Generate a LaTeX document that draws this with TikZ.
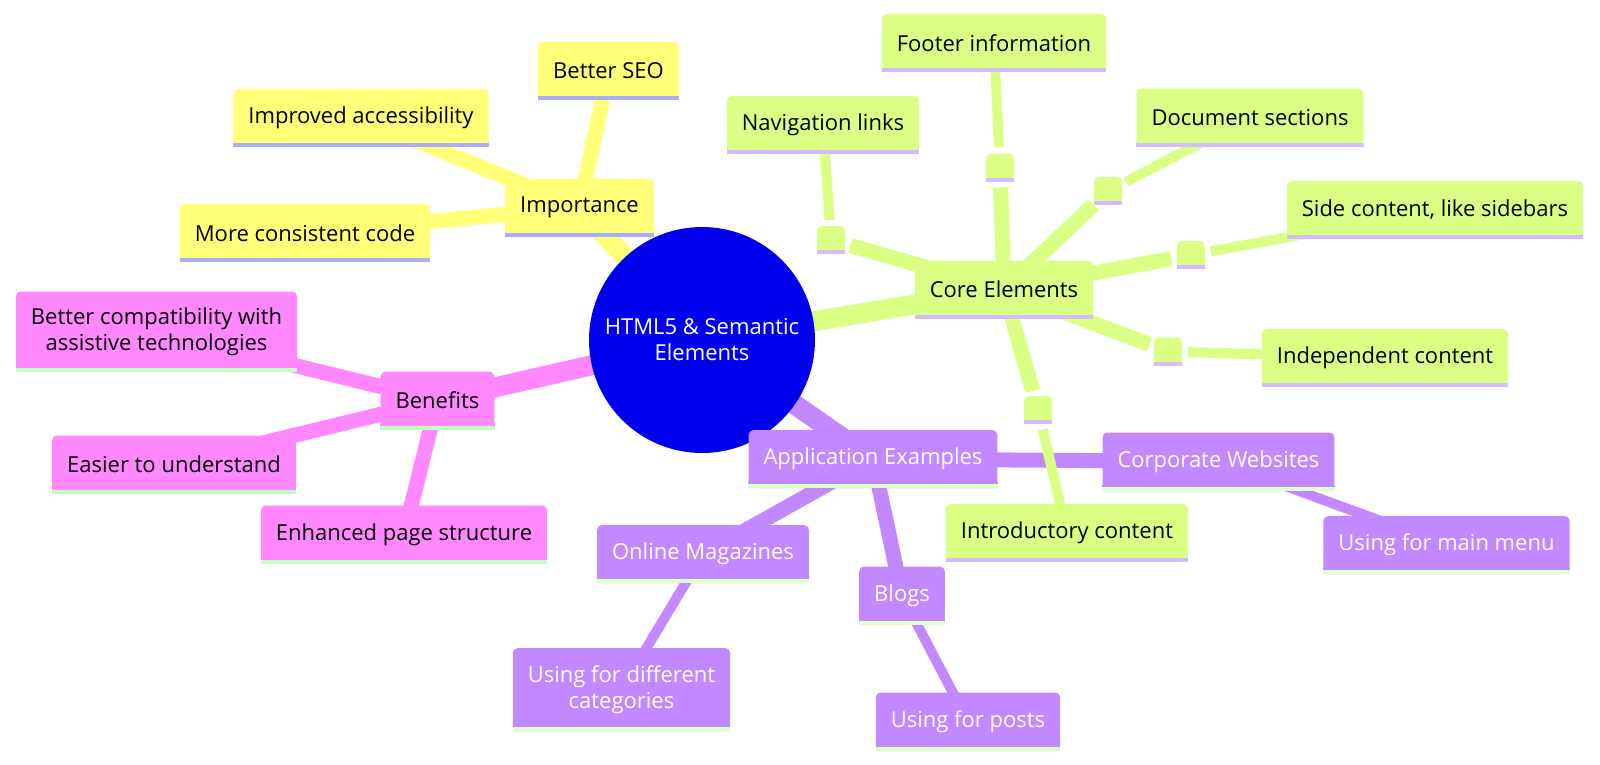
\documentclass[tikz,border=0pt]{standalone}
\usepackage{fontspec}
\setmainfont{Open Sans}
\usepackage{xcolor}
\definecolor{rootblue}{HTML}{0000EE}
\definecolor{yelfill}{HTML}{FFFF78}
\definecolor{yelline}{HTML}{ABABFF}
\definecolor{grnfill}{HTML}{DBFF84}
\definecolor{grnline}{HTML}{D2BCFF}
\definecolor{pnkfill}{HTML}{FF88FF}
\definecolor{pnkline}{HTML}{C2FFC2}
\definecolor{purfill}{HTML}{C288FF}
\definecolor{purline}{HTML}{DFFFC8}
\pgfdeclarelayer{edges}
\pgfsetlayers{edges,main}

\begin{document}
\begin{tikzpicture}[x=1pt,y=-1pt,font=\fontsize{22}{26}\selectfont,
	box/.style={rectangle,rounded corners=5pt,fill=#1,inner xsep=15pt,inner ysep=0pt,minimum height=58pt,align=center},
	dot/.style={box=#1,minimum width=28pt,minimum height=28pt,inner xsep=0pt},
	lvla/.style={line width=20pt},
	lvlb/.style={line width=15pt},
	lvlc/.style={line width=10pt},
	gapin/.style={shorten >=20pt},
	gapout/.style={shorten <=20pt}]
		\useasboundingbox (0,0) rectangle (1600,764);

		\node[circle,fill=rootblue,text=white,align=center,minimum size=226pt] (root) at (702,340) {HTML5 \& Semantic\\Elements};

		% importance
		\node[box=yelfill] (imp)  at (579.5,207.5) {Importance};
		\node[box=yelfill] (seo)  at (608.5,71)    {Better SEO};
		\node[box=yelfill] (acc)  at (361,118)     {Improved accessibility};
		\node[box=yelfill] (cons) at (305,233)     {More consistent code};

		% core elements
		\node[box=grnfill] (core)   at (1004,289.5) {Core Elements};
		\node[dot=grnfill] (snav)   at (831,240)    {};
		\node[dot=grnfill] (sfoot)  at (1000,167.5) {};
		\node[dot=grnfill] (sdoc)   at (1108,191)   {};
		\node[dot=grnfill] (sside)  at (1191,255)   {};
		\node[dot=grnfill] (sind)   at (1168,351.5) {};
		\node[dot=grnfill] (sintro) at (1038,410)   {};
		\node[box=grnfill] (nav)    at (823,125)    {Navigation links};
		\node[box=grnfill] (foot)   at (994,43)     {Footer information};
		\node[box=grnfill] (doc)    at (1250,117.5) {Document sections};
		\node[box=grnfill] (side)   at (1435,210)   {Side content, like sidebars};
		\node[box=grnfill] (ind)    at (1385,358)   {Independent content};
		\node[box=grnfill] (intro)  at (1067,533)   {Introductory content};

		% benefits
		\node[box=pnkfill] (ben)    at (437.5,400.5) {Benefits};
		\node[box=pnkfill,minimum height=80pt] (compat) at (156.5,331.5) {Better compatibility with\\assistive technologies};
		\node[box=pnkfill] (easy)   at (174,464.5)   {Easier to understand};
		\node[box=pnkfill] (enh)    at (404,534.5)   {Enhanced page structure};

		% application examples
		\node[box=purfill,text=white] (app)   at (873,459)     {Application Examples};
		\node[box=purfill,text=white] (corp)  at (1218.5,461.5) {Corporate Websites};
		\node[box=purfill,text=white] (menu)  at (1446.5,545)  {Using for main menu};
		\node[box=purfill,text=white] (mag)   at (703,554)     {Online Magazines};
		\node[box=purfill,text=white] (blogs) at (902,595.5)   {Blogs};
		\node[box=purfill,text=white] (posts) at (968,721.5)   {Using for posts};
		\node[box=purfill,text=white,minimum height=83pt] (cats) at (621.5,689.5) {Using for different\\categories};

		% square bottoms and the coloured bottom line
		\foreach \nd/\tone in {imp/yel,seo/yel,acc/yel,cons/yel,
			core/grn,snav/grn,sfoot/grn,sdoc/grn,sside/grn,sind/grn,sintro/grn,
			nav/grn,foot/grn,doc/grn,side/grn,ind/grn,intro/grn,
			ben/pnk,compat/pnk,easy/pnk,enh/pnk,
			app/pur,corp/pur,menu/pur,mag/pur,blogs/pur,posts/pur,cats/pur}{
			\fill[\tone fill] ([yshift=6pt]\nd.south west) rectangle (\nd.south east);
			\fill[\tone line] ([yshift=4pt]\nd.south west) rectangle (\nd.south east);
		}

		\begin{pgfonlayer}{edges}
		\path (root.center) edge[lvla,yelfill] (imp.center)
			  (imp.center)  edge[lvlb,yelfill] (seo.center)
			  (imp.center)  edge[lvlb,yelfill] (acc.center)
			  (imp.center)  edge[lvlb,yelfill] (cons.center);
		\path (root.center) edge[lvla,pnkfill] (ben.center)
			  (ben.center)  edge[lvlb,pnkfill] (compat.center)
			  (ben.center)  edge[lvlb,pnkfill] (easy.center)
			  (ben.center)  edge[lvlb,pnkfill] (enh.center);
		\path (root.center) edge[lvla,purfill] (app.center)
			  (app.center)  edge[lvlb,purfill] (corp.center)
			  (app.center)  edge[lvlb,purfill] (mag.center)
			  (app.center)  edge[lvlb,purfill] (blogs.center)
			  (corp.center) edge[lvlc,purfill] (menu.center)
			  (mag.center)  edge[lvlc,purfill] (cats.center)
			  (blogs.center) edge[lvlc,purfill] (posts.center);
		\path (root.center) edge[lvla,grnfill] (core.center)
			  (core.center) edge[lvlb,grnfill,gapin] (snav.center)
			  (core.center) edge[lvlb,grnfill,gapin] (sfoot.center)
			  (core.center) edge[lvlb,grnfill,gapin] (sdoc.center)
			  (core.center) edge[lvlb,grnfill,gapin] (sside.center)
			  (core.center) edge[lvlb,grnfill,gapin] (sind.center)
			  (core.center) edge[lvlb,grnfill,gapin] (sintro.center)
			  (snav.center)   edge[lvlc,grnfill,gapout] (nav.center)
			  (sfoot.center)  edge[lvlc,grnfill,gapout] (foot.center)
			  (sdoc.center)   edge[lvlc,grnfill,gapout] (doc.center)
			  (sside.center)  edge[lvlc,grnfill,gapout] (side.center)
			  (sind.center)   edge[lvlc,grnfill,gapout] (ind.center)
			  (sintro.center) edge[lvlc,grnfill,gapout] (intro.center);
		\end{pgfonlayer}
	\end{tikzpicture}
\end{document}
